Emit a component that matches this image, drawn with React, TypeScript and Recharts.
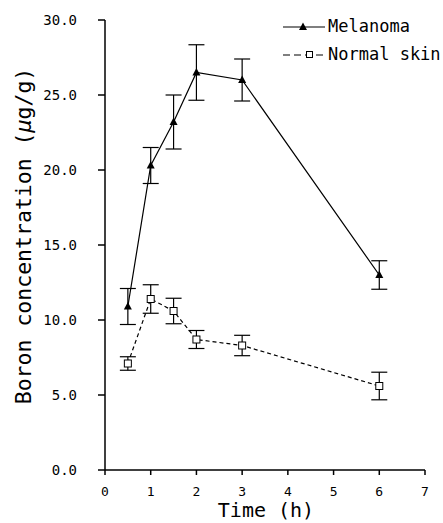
import React from 'react';
import { LineChart, Line, XAxis, YAxis, ErrorBar } from 'recharts';

const times = [0.5, 1, 1.5, 2, 3, 6];
const melanoma = [10.9, 20.3, 23.2, 26.5, 26.0, 13.0];
const melanomaErr = [1.2, 1.2, 1.8, 1.85, 1.4, 0.95];
const normalSkin = [7.1, 11.4, 10.6, 8.7, 8.3, 5.6];
const normalSkinErr = [0.45, 0.95, 0.85, 0.6, 0.68, 0.92];
const xTicks = [0, 1, 2, 3, 4, 5, 6, 7];
const yTicks = [0, 5, 10, 15, 20, 25, 30];

const data = times.map((t, i) => ({
  time: t,
  mel: melanoma[i],
  melErr: melanomaErr[i],
  norm: normalSkin[i],
  normErr: normalSkinErr[i],
}));

const FONT = 'DejaVu Sans Mono';

const Triangle = (props: any) => {
  const { cx, cy } = props;
  if (cx == null || cy == null) return null;
  return <path d={`M${cx},${cy - 4.5} L${cx + 4},${cy + 3} L${cx - 4},${cy + 3} Z`} fill="#000" />;
};

const Square = (props: any) => {
  const { cx, cy } = props;
  if (cx == null || cy == null) return null;
  return <rect x={cx - 3.5} y={cy - 3.5} width={7} height={7} fill="#fff" stroke="#000" strokeWidth={1} />;
};

const LegendBox = () => (
  <svg width={165} height={50} style={{ position: 'absolute', left: 280, top: 14, display: 'block' }}>
    <g style={{ fontFamily: FONT }} fontSize={17} fill="#000">
      <line x1={3} y1={13} x2={45} y2={13} stroke="#000" strokeWidth={1.2} />
      <path d="M23,8.5 L27,16 L19,16 Z" fill="#000" />
      <text x={48} y={18}>Melanoma</text>
      <line x1={3} y1={41} x2={45} y2={41} stroke="#000" strokeWidth={1.2} strokeDasharray="7 4" />
      <rect x={26.5} y={37.5} width={6} height={6} fill="#fff" stroke="#000" strokeWidth={1} />
      <text x={48} y={46}>Normal skin</text>
    </g>
  </svg>
);

export default function App() {
  return (
    <div style={{ position: 'absolute', left: 0, top: 0, width: 443, height: 523, background: '#fff', fontFamily: FONT }}>
      <LineChart
        width={443}
        height={523}
        data={data}
        margin={{ top: 20, right: 18, bottom: 0, left: 0 }}
        style={{ fontFamily: FONT }}
      >
        <XAxis
          dataKey="time"
          type="number"
          domain={[0, 7]}
          ticks={xTicks}
          allowDataOverflow
          height={53}
          stroke="#000"
          strokeWidth={1.5}
          tickSize={5}
          tickMargin={12}
          tick={{ fill: '#000', fontSize: 13, fontFamily: FONT }}
          label={{
            content: () => (
              <text x={266} y={517} textAnchor="middle" style={{ fontFamily: FONT }} fontSize={20} fill="#000">
                Time (h)
              </text>
            ),
          }}
        />
        <YAxis
          type="number"
          domain={[0, 30]}
          ticks={yTicks}
          width={105}
          stroke="#000"
          strokeWidth={1.5}
          tickSize={7}
          tickMargin={21}
          tickFormatter={(v: number) => v.toFixed(1)}
          tick={{ fill: '#000', fontSize: 14, fontFamily: FONT }}
          label={{
            content: () => (
              <text
                x={31}
                y={236}
                transform="rotate(-90 31 236)"
                textAnchor="middle"
                style={{ fontFamily: FONT }}
                fontSize={21.5}
                fill="#000"
              >
                Boron concentration (<tspan fontStyle="italic">μ</tspan>g/g)
              </text>
            ),
          }}
        />
        <Line
          dataKey="mel"
          name="Melanoma"
          stroke="#000"
          strokeWidth={1.2}
          dot={<Triangle />}
          activeDot={false}
          isAnimationActive={false}
        >
          <ErrorBar dataKey="melErr" width={8} stroke="#000" strokeWidth={1.2} direction="y" />
        </Line>
        <Line
          dataKey="norm"
          name="Normal skin"
          stroke="#000"
          strokeWidth={1.2}
          strokeDasharray="4 3"
          dot={<Square />}
          activeDot={false}
          isAnimationActive={false}
        >
          <ErrorBar dataKey="normErr" width={8} stroke="#000" strokeWidth={1.2} direction="y" />
        </Line>
      </LineChart>
      <LegendBox />
    </div>
  );
}
